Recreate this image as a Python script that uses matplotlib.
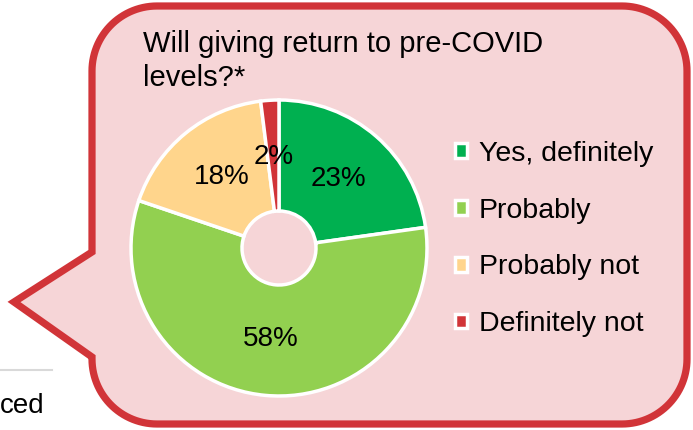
import matplotlib.pyplot as plt
import numpy as np
from matplotlib.path import Path
from matplotlib.patches import PathPatch

plt.rcParams['font.family'] = ['Liberation Sans', 'DejaVu Sans']

# data
answers = ["Yes, definitely", "Probably", "Probably not", "Definitely not"]
shares = [23, 58, 18, 2]
colors = ["#00B050", "#92D050", "#FFD58C", "#D13438"]
title = "Will giving return to pre-COVID\nlevels?*"

W, H = 693, 430
fig = plt.figure(figsize=(W / 100, H / 100), dpi=100)
ax = fig.add_axes([0, 0, 1, 1])


def up(y):
    # pixel row (from top) -> data y
    return H - y


# callout bubble: rounded box with a pointer on the left
L, R, T, B, rad = 92, 687, up(6), up(424), 65
verts = [(L, up(252)), (L, T - rad)]
for cx, cy, a0, a1 in [(L + rad, T - rad, 180, 90), (R - rad, T - rad, 90, 0),
                       (R - rad, B + rad, 0, -90), (L + rad, B + rad, -90, -180)]:
    a = np.deg2rad(np.linspace(a0, a1, 30))
    verts += list(zip(cx + rad * np.cos(a), cy + rad * np.sin(a)))
verts += [(L, up(357)), (14, up(302)), (L, up(252))]
codes = [Path.MOVETO] + [Path.LINETO] * (len(verts) - 2) + [Path.CLOSEPOLY]
bubble = PathPatch(Path(verts, codes), facecolor="#F6D5D7", edgecolor="#D13438",
                   lw=5.2, joinstyle="miter", zorder=1)
ax.add_patch(bubble)

# donut
center = (279, up(248))
radius = 148
wedges, _ = ax.pie(shares, colors=colors, startangle=90, counterclock=False,
                   center=center, radius=radius,
                   wedgeprops=dict(width=radius * 0.75, edgecolor="white", linewidth=2.5))
for w in wedges:
    w.set_zorder(2)
for w, v in zip(wedges, shares):
    ang = np.deg2rad((w.theta1 + w.theta2) / 2)
    ax.text(center[0] + 0.615 * radius * np.cos(ang), center[1] + 0.615 * radius * np.sin(ang),
            f"{v}%", ha="center", va="center", fontsize=20, zorder=3)

ax.text(143, up(30), title, ha="left", va="top", fontsize=21, linespacing=1.28, zorder=3)

ax.legend(wedges, answers, loc="upper left", bbox_to_anchor=(455 / W, up(141) / H),
          frameon=False, fontsize=20.5, handlelength=0.42, handleheight=0.42,
          handletextpad=0.42, labelspacing=1.08, borderpad=0, borderaxespad=0)

# bits of the surrounding slide
ax.plot([0, 52], [up(370), up(370)], color="#D9D9D9", lw=1.5, zorder=0)
ax.text(0, up(413), "ced", ha="left", va="baseline", fontsize=20)

ax.set_xlim(0, W)
ax.set_ylim(0, H)
ax.set_aspect("auto")
ax.axis("off")

fig.savefig("out.png", dpi=100)
